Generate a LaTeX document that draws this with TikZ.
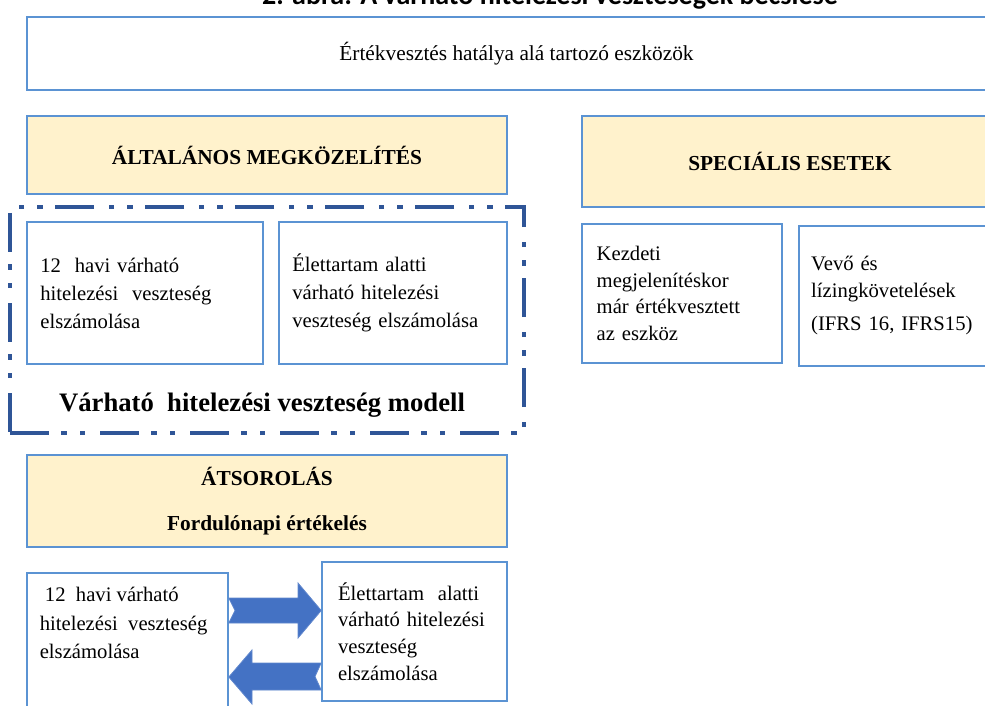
\documentclass[tikz,border=0pt]{standalone}
\usepackage{fontspec}
\setmainfont{Liberation Serif}
\newfontfamily\titlefont{Carlito}
\usetikzlibrary{positioning}

\definecolor{boxblue}{HTML}{5B93D3}
\definecolor{headyellow}{HTML}{FFF2CC}
\definecolor{frameblue}{HTML}{2F5597}
\definecolor{arrowblue}{HTML}{4472C4}

\begin{document}
\begin{tikzpicture}[x=0.75pt,y=-0.75pt]
\tikzset{
  plainbox/.style={draw=boxblue,line width=1.2pt,fill=white,inner ysep=0pt,inner xsep=10pt,align=left,font=\fontsize{15.5}{21}\selectfont},
  headbox/.style={plainbox,fill=headyellow,inner xsep=0pt,align=center,font=\fontsize{16}{20}\selectfont\bfseries},
  bodytext/.style={inner sep=0pt,align=left,font=\fontsize{15.5}{21.5}\selectfont},
  modelframe/.style={draw=frameblue,line width=3pt,dash pattern=on 29pt off 9.5pt on 4pt off 10pt on 4pt off 11pt},
  blockarrow/.style={fill=arrowblue,draw=arrowblue!85!white,line width=0.6pt,line join=miter}
}
\useasboundingbox (0,0) rectangle (985,706);
\node[font=\titlefont\bfseries\fontsize{21}{24}\selectfont,anchor=base] (n_title) at (550,5) {2. ábra: A várható hitelezési veszteségek becslése};
\node[plainbox,align=center,font=\fontsize{16}{20}\selectfont,minimum width=734.25pt,minimum height=54.75pt] (n_top) at (516.5,53.5) {Értékvesztés hatálya alá tartozó eszközök};
\node[headbox,minimum width=360pt,minimum height=58.5pt] (n_alt) at (267,155) {ÁLTALÁNOS MEGKÖZELÍTÉS};
\node[headbox,minimum width=312pt,minimum height=68.25pt] (n_spec) at (790,161.5) {SPECIÁLIS ESETEK};
\node[modelframe,minimum width=385.5pt,minimum height=169.5pt] (n_frame) at (267,320) {};
\node[plainbox,text width=157pt,minimum height=106.5pt] (n_havi1) at (145,293) {12\ \ havi várható\\hitelezési\ \ veszteség\\elszámolása};
\node[plainbox,text width=151pt,minimum height=106.5pt] (n_elet1) at (393,293) {Élettartam alatti\\várható hitelezési\\veszteség elszámolása};
\node[font=\fontsize{20}{24}\selectfont\bfseries] (n_modell) at (262,405) {Várható\ \ hitelezési veszteség modell};
\node[plainbox,inner xsep=11pt,text width=128pt,minimum height=104.25pt,font=\fontsize{15.5}{20}\selectfont] (n_kezd) at (682,293.5) {Kezdeti\\megjelenítéskor\\már értékvesztett\\az eszköz};
\node[plainbox,inner xsep=9pt,text width=125pt,minimum height=105pt,font=\fontsize{15.5}{20}\selectfont] (n_vevo) at (894.5,296) {Vevő és\\lízingkövetelések\\[5pt](IFRS 16, IFRS15)};
\node[headbox,minimum width=360pt,minimum height=69pt] (n_atsor) at (267,501) {ÁTSOROLÁS\\[14pt]Fordulónapi értékelés};
\node[plainbox,minimum width=150.75pt,minimum height=140.25pt] (n_havi2) at (127.5,666.5) {};
\node[bodytext,below right=11pt and 10pt of n_havi2.north west] (n_havi2txt) {\ 12\ \ havi várható\\hitelezési\ \ veszteség\\elszámolása};
\node[plainbox,inner xsep=12pt,text width=114.75pt,minimum height=104.25pt,font=\fontsize{15.5}{20}\selectfont] (n_elet2) at (414.5,631.5) {Élettartam\ \ alatti\\várható hitelezési\\veszteség\\elszámolása};
\draw[blockarrow] (n_havi2.east |- 0,598) -- (298,598) -- (298,583) -- (n_elet2.west |- 0,610.5) -- (298,638) -- (298,623) -- (n_havi2.east |- 0,623) -- (235,610.5) -- cycle;
\draw[blockarrow] (n_elet2.west |- 0,663) -- (252,663) -- (252,650) -- (n_havi2.east |- 0,677) -- (252,704) -- (252,690) -- (n_elet2.west |- 0,690) -- (315,676.5) -- cycle;
\end{tikzpicture}
\end{document}
